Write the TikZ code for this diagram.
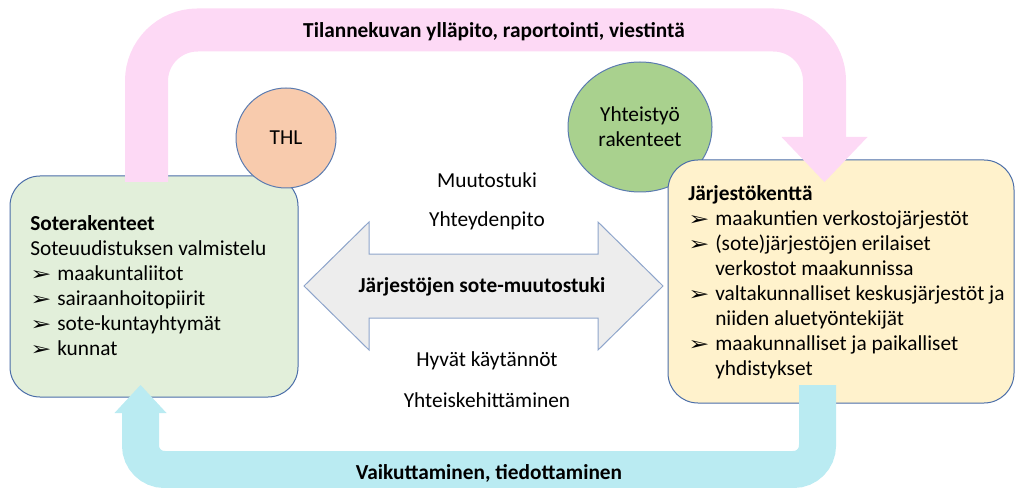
\documentclass[tikz,border=0pt]{standalone}
\usepackage{fontspec}
\setmainfont{Carlito}
\newfontfamily\dingfont{DejaVu Sans}
\usepackage{tikz}
\usetikzlibrary{positioning,arrows.meta,shapes.geometric}
\usepackage{xcolor}
\definecolor{greenfill}{HTML}{E2EFDA}
\definecolor{yellowfill}{HTML}{FFF2CC}
\definecolor{thlfill}{HTML}{F8CBAD}
\definecolor{yhtfill}{HTML}{A9D18E}
\definecolor{pinkfill}{HTML}{FDD9F5}
\definecolor{cyanfill}{HTML}{BAEBF2}
\definecolor{arrowgray}{HTML}{EDEDED}
\definecolor{boxline}{HTML}{4A6DA8}
\definecolor{bubbleline}{HTML}{5B7BB0}
\definecolor{arrowline}{HTML}{8EA5CB}
\newcommand\bul{\makebox[20.25pt][l]{\scalebox{1.35}[1]{\dingfont\fontsize{14}{14}\selectfont ➢}}}
\tikzset{
  roundbox/.style={draw=boxline, line width=0.75pt, rounded corners=22.5pt, inner sep=0pt},
  bubble/.style={ellipse, draw=bubbleline, line width=0.75pt, inner sep=0pt, align=center},
  boxtext/.style={anchor=base west, inner sep=0pt},
  midtext/.style={anchor=base, inner sep=0pt},
  pinkband/.style={draw=pinkfill, line width=32.25pt, rounded corners=38.25pt,
    -{Triangle[width=64.5pt,length=33.75pt,line width=0pt]}},
  cyanband/.style={draw=cyanfill, line width=27.75pt, rounded corners=18pt,
    -{Triangle[width=39pt,length=21pt,line width=0pt]}},
  dblarrow/.style={fill=arrowgray, draw=arrowline, line width=0.75pt, line join=miter},
}
\begin{document}
\begin{tikzpicture}[
  x=0.75pt, y=-0.75pt,
  every node/.style={font=\fontsize{16}{18.75}\selectfont}
]
\useasboundingbox (0,0) rectangle (1016,488);

% circles and boxes
\node[bubble, fill=yhtfill, minimum width=108pt, minimum height=97.5pt] (yht) at (640,127) {Yhteistyö\\rakenteet};
\node[roundbox, fill=greenfill, minimum width=216pt, minimum height=165.75pt] (soter) at (154,286.5) {};
\node[roundbox, fill=yellowfill, minimum width=259.5pt, minimum height=182.25pt] (jarj) at (841,281.5) {};
\node[bubble, fill=thlfill, minimum width=75pt, minimum height=75pt] (thl) at (286,138) {THL};

% curved arrows
\coordinate (pk1) at (146.5,182);
\coordinate (pk2) at (146.5,30);
\coordinate (pk3) at (824.5,30);
\coordinate (pk4) at (824.5,182);
\draw[pinkband] (pk1) -- (pk2) -- (pk3) -- (pk4);

\coordinate (ck1) at (817.5,385);
\coordinate (ck2) at (817.5,469.5);
\coordinate (ck3) at (140.5,469.5);
\coordinate (ck4) at (140.5,385);
\draw[cyanband] (ck1) -- (ck2) -- (ck3) -- (ck4);

% double arrow
\draw[dblarrow] (304,286) -- (369,222) -- (369,254) -- (598,254) -- (598,222) -- (663,286)
  -- (598,350) -- (598,318) -- (369,318) -- (369,350) -- cycle;

% labels
\node[midtext] (pinklabel) at (494,38) {\textbf{Tilannekuvan ylläpito, raportointi, viestintä}};
\node[midtext] (cyanlabel) at (489,479) {\textbf{Vaikuttaminen, tiedottaminen}};
\node[midtext] (tuki) at (482,292) {\textbf{Järjestöjen sote-muutostuki}};
\node[midtext] (muutos) at (487,188) {Muutostuki};
\node[midtext] (yhteys) at (487,227) {Yhteydenpito};
\node[midtext] (hyvat) at (487,366) {Hyvät käytännöt};
\node[midtext] (kehitys) at (487,407) {Yhteiskehittäminen};

% left box text
\node[boxtext] (sotetitle) at (30,230) {\textbf{Soterakenteet}};
\node[boxtext] (soteprep) at (30,255) {Soteuudistuksen valmistelu};
\foreach \words [count=\i] in {maakuntaliitot, sairaanhoitopiirit, sote-kuntayhtymät, kunnat}
  \node[boxtext] (sote\i) at (30,255+25*\i) {\bul\words};

% right box text
\node[boxtext] (jtitle) at (688,200) {\textbf{Järjestökenttä}};
\foreach \flag/\words [count=\i] in {1/maakuntien verkostojärjestöt, 1/{(sote)järjestöjen erilaiset},
    0/verkostot maakunnissa, 1/valtakunnalliset keskusjärjestöt ja, 0/niiden aluetyöntekijät,
    1/maakunnalliset ja paikalliset, 0/yhdistykset}
  \node[boxtext] (jrow\i) at (688,200+25*\i) {\ifnum\flag=1 \bul\else\hspace*{20.25pt}\fi\words};

\end{tikzpicture}
\end{document}
